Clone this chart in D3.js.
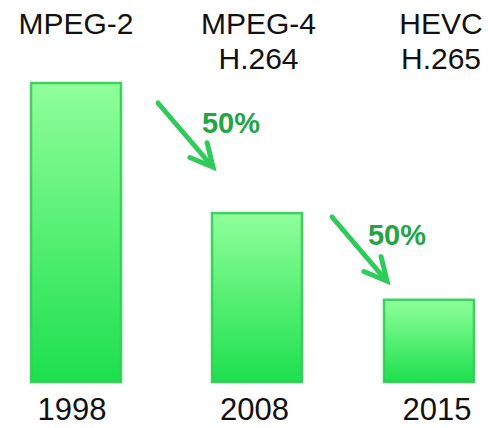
<!DOCTYPE html>
<html>
<head>
<meta charset="utf-8">
<script src="https://cdn.jsdelivr.net/npm/d3@7"></script>
<style>
  body { margin: 0; background: #fff; }
  text { font-family: "Liberation Sans", Arial, sans-serif; }
</style>
</head>
<body>
<div id="chart"></div>
<script>
// chart data
const years = ["1998", "2008", "2015"];
const codecLines = [["MPEG-2"], ["MPEG-4", "H.264"], ["HEVC", "H.265"]];
const bitrate = [100, 56.5, 27.5];   // relative bitrate
const savings = ["50%", "50%"];

const canvWidth = 488, canvHeight = 428;
const svg = d3.select("#chart").append("svg")
    .attr("width", canvWidth)
    .attr("height", canvHeight);

// gradient for the bars
const grad = svg.append("defs").append("linearGradient")
    .attr("id", "barFill")
    .attr("x1", 0).attr("y1", 0).attr("x2", 0).attr("y2", 1);
grad.append("stop").attr("offset", "0%").attr("stop-color", "#90ff9a");
grad.append("stop").attr("offset", "100%").attr("stop-color", "#1de04e");

// scales: bars are not evenly spaced in the original, labels are
const xBar = d3.scaleOrdinal().domain(years).range([31, 212, 384]);
const barWidth = 90;
const xLabel = d3.scalePoint().domain(years).range([74, 439]);
const yScale = d3.scaleLinear().domain([0, 100]).range([382, 83]);

// bars
svg.selectAll("rect.bar")
  .data(years)
  .enter().append("rect")
    .attr("class", "bar")
    .attr("x", d => xBar(d))
    .attr("y", (d, i) => yScale(bitrate[i]))
    .attr("width", barWidth)
    .attr("height", (d, i) => yScale(0) - yScale(bitrate[i]))
    .attr("fill", "url(#barFill)")
    .attr("stroke", "#30cc55")
    .attr("stroke-opacity", 0.9)
    .attr("stroke-width", 2.5);

// codec names on top
const codecText = svg.selectAll("text.codec")
  .data(years)
  .enter().append("text")
    .attr("class", "codec")
    .attr("x", d => xLabel(d) + 2)
    .attr("text-anchor", "middle")
    .attr("font-size", 30)
    .attr("fill", "#111");
codecText.selectAll("tspan")
  .data((d, i) => codecLines[i])
  .enter().append("tspan")
    .attr("x", function () { return d3.select(this.parentNode).attr("x"); })
    .attr("y", (d, j) => 34 + j * 35)
    .text(d => d);

// years at the bottom
svg.selectAll("text.year")
  .data(years)
  .enter().append("text")
    .attr("class", "year")
    .attr("x", d => xLabel(d) - 2)
    .attr("y", 420)
    .attr("text-anchor", "middle")
    .attr("font-size", 31)
    .attr("fill", "#111")
    .text(d => d);

// arrows with the saving between codec generations
const arrowTips = [[213, 167], [387, 281]];
const labelPos = [[231, 133], [397, 245]];
const shaft = [-55, -64];
const arrowColor = "#2dcc5a";

savings.forEach((s, i) => {
  const [tx, ty] = arrowTips[i];
  const g = svg.append("g").attr("class", "saving");
  g.append("line")
    .attr("x1", tx + shaft[0]).attr("y1", ty + shaft[1])
    .attr("x2", tx - 2).attr("y2", ty - 2)
    .attr("stroke", arrowColor)
    .attr("stroke-width", 5)
    .attr("stroke-linecap", "round");
  // arrow head
  const back = Math.atan2(shaft[1], shaft[0]);
  const len = 25, spread = 27 * Math.PI / 180;
  const p1 = [tx + len * Math.cos(back - spread), ty + len * Math.sin(back - spread)];
  const p2 = [tx + len * Math.cos(back + spread), ty + len * Math.sin(back + spread)];
  g.append("path")
    .attr("d", d3.line()([p1, [tx, ty], p2]))
    .attr("fill", "none")
    .attr("stroke", arrowColor)
    .attr("stroke-width", 5)
    .attr("stroke-linecap", "round")
    .attr("stroke-linejoin", "miter");
  g.append("text")
    .attr("x", labelPos[i][0])
    .attr("y", labelPos[i][1])
    .attr("text-anchor", "middle")
    .attr("font-size", 29)
    .attr("font-weight", "bold")
    .attr("fill", "#24a445")
    .text(s);
});
</script>
</body>
</html>
